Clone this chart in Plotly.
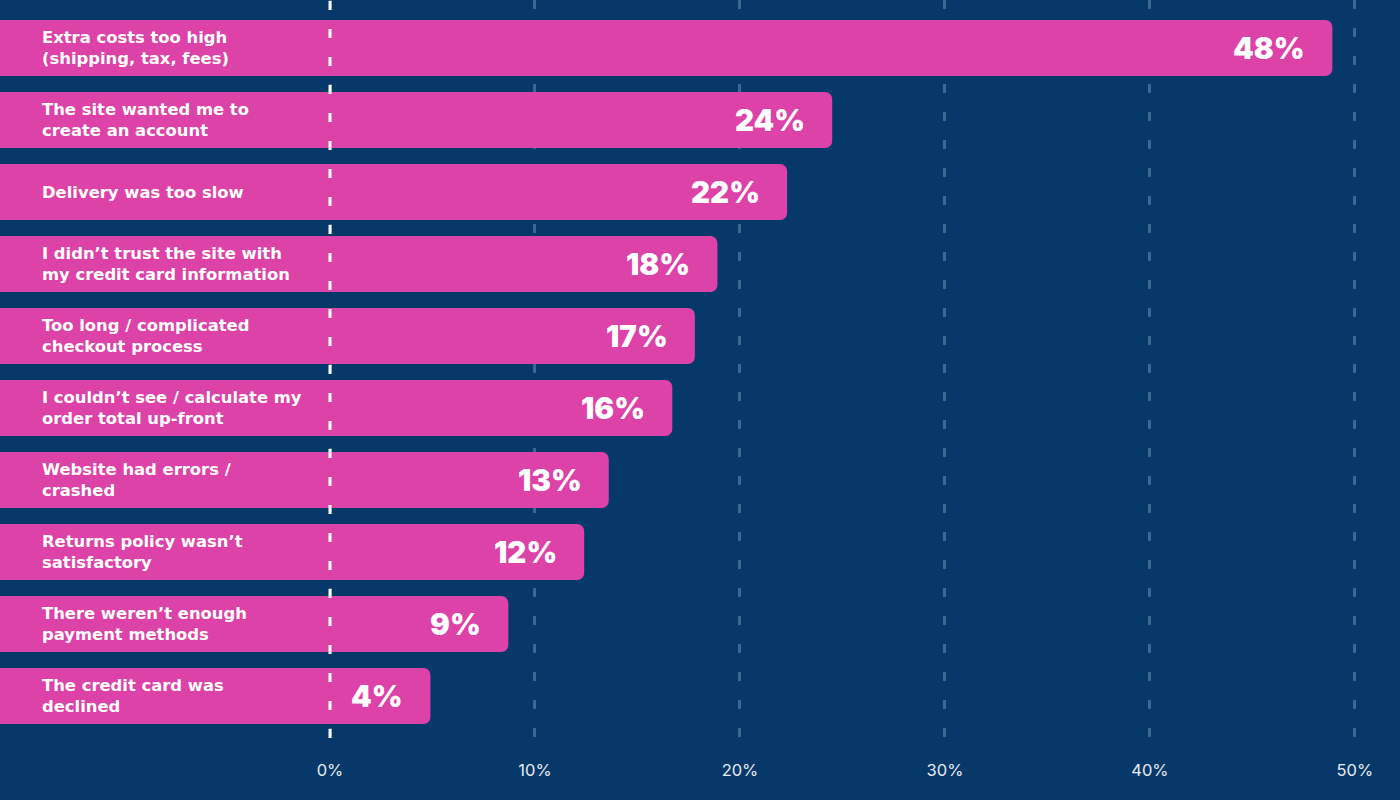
import plotly.graph_objects as go

categories = [
    "Extra costs too high<br>(shipping, tax, fees)",
    "The site wanted me to<br>create an account",
    "Delivery was too slow",
    "I didn’t trust the site with<br>my credit card information",
    "Too long / complicated<br>checkout process",
    "I couldn’t see / calculate my<br>order total up-front",
    "Website had errors /<br>crashed",
    "Returns policy wasn’t<br>satisfactory",
    "There weren’t enough<br>payment methods",
    "The credit card was<br>declined",
]
# bar lengths (percent)
bar_values = [48.9, 24.5, 22.3, 18.9, 17.8, 16.7, 13.6, 12.4, 8.7, 4.9]
# printed labels
value_labels = ["48%", "24%", "22%", "18%", "17%", "16%", "13%", "12%", "9%", "4%"]
tick_vals = [0, 10, 20, 30, 40, 50]
tick_text = ["0%", "10%", "20%", "30%", "40%", "50%"]

BG = "#07386A"
BAR = "#DC42A7"
GRID = "#3D6891"

X_MIN = -16.1
X_MAX = 52.2
BASE = -20

ypos = list(range(len(categories)))

fig = go.Figure()
fig.add_trace(go.Bar(
    y=ypos,
    x=[v - BASE for v in bar_values],
    base=BASE,
    orientation="h",
    width=0.778,
    marker=dict(color=BAR, line=dict(width=0)),
    hoverinfo="skip",
))

annotations = []
for i, (c, v, lab) in enumerate(zip(categories, bar_values, value_labels)):
    annotations.append(dict(
        x=40 / 1400, xref="paper", y=i, yref="y",
        text=c, showarrow=False, xanchor="left", yanchor="middle", align="left",
        font=dict(family="DejaVu Sans", size=16.4, color="white", weight=700),
    ))
    annotations.append(dict(
        x=v, xref="x", y=i, yref="y",
        text=lab, showarrow=False, xanchor="right", yanchor="middle", xshift=-25,
        font=dict(family="Inter", size=29.5, color="white", weight=900),
    ))

fig.update_layout(
    width=1400, height=800,
    margin=dict(l=0, r=0, t=0, b=62),
    paper_bgcolor=BG, plot_bgcolor=BG,
    showlegend=False,
    barcornerradius=7,
    annotations=annotations,
    shapes=[dict(
        type="line", xref="x", yref="paper", x0=0, x1=0, y0=0, y1=1,
        line=dict(color="white", width=3, dash="9px,19px"), layer="above",
    )],
    xaxis=dict(
        range=[X_MIN, X_MAX], tickvals=tick_vals, ticktext=tick_text,
        showgrid=True, gridcolor=GRID, gridwidth=3, griddash="9px,19px",
        zeroline=False, showline=False, ticks="",
        ticklabelstandoff=20,
        tickfont=dict(family="Inter", size=16.5, color="#E8ECF2"),
        fixedrange=True,
    ),
    yaxis=dict(
        range=[9.583, -0.667], showgrid=False, zeroline=False,
        showticklabels=False, ticks="", fixedrange=True,
    ),
)

fig.write_html(
    "out.html",
    config={"displayModeBar": False},
    post_script="document.body.style.margin='0';document.body.style.background='" + BG + "';",
)
